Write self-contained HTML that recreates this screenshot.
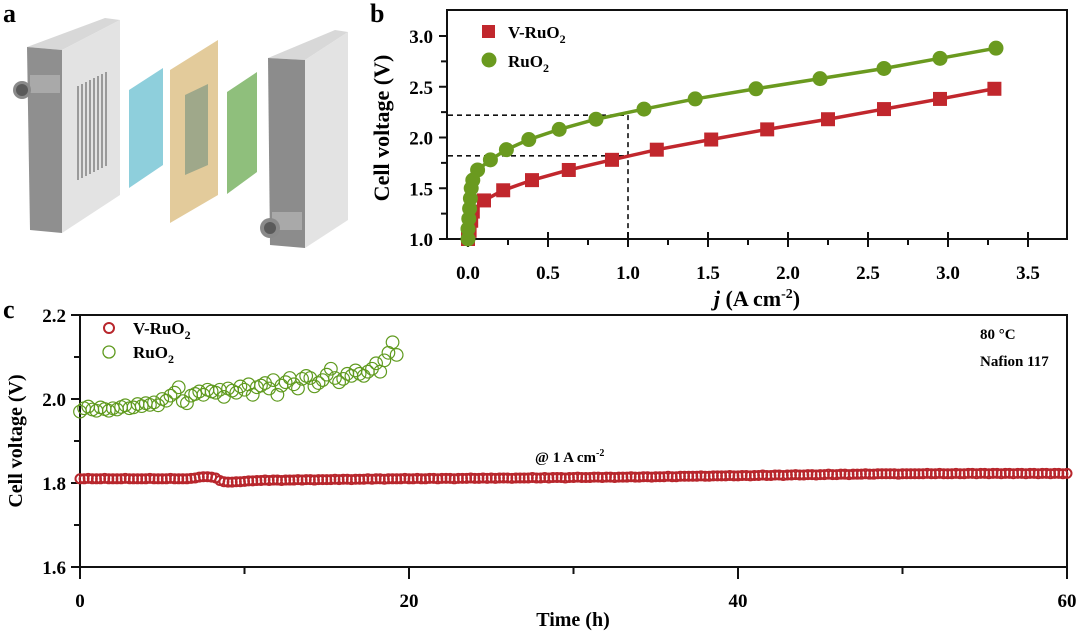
<!DOCTYPE html>
<html><head><meta charset="utf-8"><style>
html,body{margin:0;padding:0;background:#fff;}
svg{display:block;font-family:"Liberation Serif",serif;font-weight:bold;}
</style></head><body>
<svg id="fig" width="1080" height="635" viewBox="0 0 1080 635" xmlns="http://www.w3.org/2000/svg">
<g>
<text x="3" y="22" font-size="26">a</text>
<polygon points="27,47 105,18 120,20 62,50" fill="#d8d8d8"/>
<polygon points="27,47 62,50 62,233 30,230" fill="#8f8f8f"/>
<polygon points="62,50 120,20 120,195 62,233" fill="#e3e3e3"/>
<g stroke="#6a6a6a" stroke-width="1.2" fill="none">
<path d="M78,86 L78,180 M82,84 L82,178 M86,82 L86,176 M90,80 L90,174 M94,78 L94,172 M98,76 L98,170 M102,74 L102,168 M106,72 L106,166"/>
</g>
<rect x="30" y="75" width="30" height="18" fill="#a9a9a9"/>
<circle cx="22" cy="90" r="9" fill="#8a8a8a"/>
<circle cx="22" cy="90" r="6" fill="#5a5a5a"/>
<polygon points="129,90 163,68 163,165 129,188" fill="#8ecfdc"/>
<polygon points="170,70 218,40 218,195 170,223" fill="#e3cb9b"/>
<polygon points="185,95 208,84 208,165 185,175" fill="#9fa88a"/>
<polygon points="227,92 257,72 257,172 227,194" fill="#8fbf7c"/>
<polygon points="268,58 335,30 348,32 305,60" fill="#d8d8d8"/>
<polygon points="268,58 305,60 305,248 270,245" fill="#8c8c8c"/>
<polygon points="305,60 348,32 348,220 305,248" fill="#e3e3e3"/>
<rect x="272" y="212" width="30" height="18" fill="#a9a9a9"/>
<circle cx="270" cy="228" r="10" fill="#8a8a8a"/>
<circle cx="270" cy="228" r="6" fill="#5a5a5a"/>
</g>
<g id="pb"></g>
<g id="pc"></g>
</svg>
<script>
// ---- Panel b data ----
const bVRuJ = [0.0,0.01,0.02,0.03,0.1,0.22,0.4,0.63,0.9,1.18,1.52,1.87,2.25,2.6,2.95,3.29];
const bVRuV = [1.0,1.08,1.18,1.27,1.38,1.48,1.58,1.68,1.78,1.88,1.98,2.08,2.18,2.28,2.38,2.48];
const bRuJ = [0.0,0.0,0.005,0.01,0.015,0.02,0.03,0.06,0.14,0.24,0.38,0.57,0.8,1.1,1.42,1.8,2.2,2.6,2.95,3.3];
const bRuV = [1.0,1.1,1.2,1.3,1.4,1.5,1.58,1.68,1.78,1.88,1.98,2.08,2.18,2.28,2.38,2.48,2.58,2.68,2.78,2.88];
const bXTicks = ["0.0","0.5","1.0","1.5","2.0","2.5","3.0","3.5"];
const bYTicks = ["1.0","1.5","2.0","2.5","3.0"];
const bMarkV = [2.22,1.82];
// ---- Panel c data ----
const cVRuV = [
1.810,1.810,1.811,1.810,1.810,1.810,1.811,1.810,1.810,1.810,1.810,1.811,1.810,1.810,1.810,1.810,
1.810,1.811,1.810,1.810,1.810,1.810,1.811,1.810,1.810,1.810,1.810,1.811,
1.812,1.814,1.815,1.815,1.814,1.812,
1.806,1.803,1.802,1.802,1.803,1.803,1.804,1.805,1.805,1.806,
1.806,1.807,1.806,1.807,1.807,1.806,1.807,1.807,
1.807,1.808,1.807,1.808,1.808,1.807,1.808,1.808,
1.808,1.808,1.809,1.808,1.809,1.809,1.808,1.809,
1.809,1.809,1.810,1.809,1.810,1.810,1.809,1.810,
1.810,1.810,1.810,1.811,1.810,1.810,1.811,1.810,
1.810,1.811,1.811,1.810,1.811,1.811,1.811,1.810,
1.811,1.811,1.811,1.812,1.811,1.811,1.812,1.811,
1.812,1.811,1.812,1.812,1.812,1.811,1.812,1.812,
1.812,1.812,1.813,1.812,1.812,1.813,1.812,1.813,
1.813,1.813,1.812,1.813,1.813,1.814,1.813,1.813,
1.813,1.814,1.814,1.813,1.814,1.814,1.813,1.814,
1.814,1.814,1.815,1.814,1.814,1.815,1.815,1.814,
1.815,1.815,1.815,1.816,1.815,1.815,1.816,1.816,
1.816,1.816,1.816,1.817,1.816,1.816,1.817,1.817,
1.817,1.817,1.818,1.817,1.817,1.818,1.818,1.817,
1.818,1.818,1.819,1.818,1.818,1.819,1.819,1.818,
1.819,1.819,1.820,1.819,1.819,1.820,1.820,1.819,
1.820,1.820,1.821,1.820,1.820,1.821,1.821,1.820,
1.821,1.821,1.821,1.822,1.821,1.821,1.822,1.822,
1.822,1.822,1.822,1.821,1.822,1.822,1.822,1.822,
1.822,1.822,1.823,1.822,1.822,1.823,1.822,1.822,
1.822,1.823,1.822,1.822,1.823,1.823,1.822,1.823,
1.823,1.822,1.823,1.823,1.822,1.823,1.823,1.822,
1.823,1.823,1.822,1.823,1.823,1.822,1.823,1.823,
1.822,1.823,1.823,1.822,1.823];
const cVRuStep = 0.25;
const cRuV = [
1.970,1.978,1.982,1.975,1.972,1.980,1.976,1.972,1.978,1.975,1.981,1.985,1.978,1.980,1.988,1.983,
1.990,1.986,1.992,1.985,2.000,1.996,2.008,2.015,2.028,1.995,1.990,2.008,2.012,2.018,2.010,2.022,
2.018,2.015,2.022,2.005,2.025,2.020,2.015,2.030,2.022,2.035,2.010,2.028,2.032,2.038,2.025,2.045,
2.010,2.032,2.040,2.050,2.035,2.025,2.048,2.055,2.050,2.030,2.038,2.045,2.058,2.072,2.050,2.040,
2.048,2.060,2.055,2.068,2.060,2.055,2.065,2.072,2.085,2.065,2.092,2.110,2.135,2.105];
const cRuStep = 0.25;
const cXTicks = ["0","20","40","60"];
const cYTicks = ["1.6","1.8","2.0","2.2"];

const NS="http://www.w3.org/2000/svg";
function mk(parent,tag,attrs,text){const e=document.createElementNS(NS,tag);for(const k in attrs)e.setAttribute(k,attrs[k]);if(text!==undefined)e.textContent=text;parent.appendChild(e);return e;}

// ===== Panel b =====
const pb=document.getElementById('pb');
const bx=j=>468+j*160, by=v=>239-(v-1.0)*101.5;
let t=mk(pb,'text',{x:370,y:22,'font-size':26});


t.textContent='b';
let fr=mk(pb,'rect',{x:447,y:10,width:620,height:229,fill:'none',stroke:'#111','stroke-width':2});


for(let i=0;i<=14;i++){const j=i*0.25;const x=bx(j);const maj=i%2==0;
 mk(pb,'line',{x1:x,x2:x,y1:maj?232:239,y2:maj?247:245,stroke:'#111','stroke-width':2});}
bXTicks.forEach(s=>{const e=mk(pb,'text',{x:bx(parseFloat(s)),y:279,'font-size':19,'text-anchor':'middle'},s);
 
 });
for(let i=0;i<=8;i++){const v=1+i*0.25;const y=by(v);const maj=i%2==0;
 mk(pb,'line',{x1:maj?439:441,x2:447,y1:y,y2:y,stroke:'#111','stroke-width':2});}
bYTicks.forEach(s=>{const e=mk(pb,'text',{x:433,y:by(parseFloat(s))+7,'font-size':19,'text-anchor':'end'},s);
 
 });
t=mk(pb,'text',{x:0,y:0,'font-size':22,'text-anchor':'middle',transform:'translate(389,128) rotate(-90)'},'Cell voltage (V)');


t=mk(pb,'text',{x:757,y:306,'font-size':22,'text-anchor':'middle'});


t.innerHTML='<tspan font-style="italic">j</tspan> (A cm<tspan dy="-8" font-size="14">-2</tspan><tspan dy="8">)</tspan>';
bMarkV.forEach(v=>{const l=mk(pb,'line',{x1:448,x2:bx(1),y1:by(v),y2:by(v),stroke:'#111','stroke-width':1.6,'stroke-dasharray':'5,4'});
 
 });
let dl=mk(pb,'line',{x1:bx(1),x2:bx(1),y1:by(bMarkV[0]),y2:239,stroke:'#111','stroke-width':1.6,'stroke-dasharray':'5,4'});


function series(J,V,color,shape,name){
 const g=mk(pb,'g',{});
 
 
 mk(g,'polyline',{points:J.map((j,i)=>bx(j)+','+by(V[i])).join(' '),fill:'none',stroke:color,'stroke-width':3.5});
 J.forEach((j,i)=>{let m;
  if(shape=='sq') m=mk(g,'rect',{x:bx(j)-7,y:by(V[i])-7,width:14,height:14,fill:color});
  else m=mk(g,'circle',{cx:bx(j),cy:by(V[i]),r:7.5,fill:color});
  
  });
}
series(bVRuJ,bVRuV,'#c1272d','sq','series-v-ruo2');
series(bRuJ,bRuV,'#6a9a1f','ci','series-ruo2');
let lg=mk(pb,'g',{});


mk(lg,'rect',{x:482,y:25,width:13,height:13,fill:'#c1272d'});
mk(lg,'circle',{cx:489,cy:60,r:7.5,fill:'#6a9a1f'});
t=mk(lg,'text',{x:508,y:38,'font-size':17});
t.innerHTML='V-RuO<tspan dy="5" font-size="12">2</tspan>';
t=mk(lg,'text',{x:508,y:67,'font-size':17});
t.innerHTML='RuO<tspan dy="5" font-size="12">2</tspan>';

// ===== Panel c =====
const pc=document.getElementById('pc');
const cx=h=>80+h*(987/60), cy=v=>315+(2.2-v)*420;
t=mk(pc,'text',{x:3,y:318,'font-size':26});


t.textContent='c';
fr=mk(pc,'rect',{x:80,y:315,width:987,height:252,fill:'none',stroke:'#111','stroke-width':2});


for(let i=0;i<=6;i++){const x=cx(i*10);const maj=i%2==0;
 mk(pc,'line',{x1:x,x2:x,y1:567,y2:maj?579:574,stroke:'#111','stroke-width':2});}
cXTicks.forEach(s=>{const e=mk(pc,'text',{x:cx(parseFloat(s)),y:607,'font-size':19,'text-anchor':'middle'},s);
 
 });
for(let i=0;i<=6;i++){const v=1.6+i*0.1;const y=cy(v);const maj=i%2==0;
 mk(pc,'line',{x1:maj?71:74,x2:80,y1:y,y2:y,stroke:'#111','stroke-width':2});}
cYTicks.forEach(s=>{const e=mk(pc,'text',{x:66,y:cy(parseFloat(s))+7,'font-size':19,'text-anchor':'end'},s);
 
 });
t=mk(pc,'text',{x:0,y:0,'font-size':20,'text-anchor':'middle',transform:'translate(22,441) rotate(-90)'},'Cell voltage (V)');


t=mk(pc,'text',{x:573,y:626,'font-size':20,'text-anchor':'middle'},'Time (h)');


let g1=mk(pc,'g',{});


cRuV.forEach((v,i)=>{const m=mk(g1,'circle',{cx:cx(i*cRuStep),cy:cy(v),r:6.3,fill:'none',stroke:'#5f9a1e','stroke-width':1.2});
 
 });
let g2=mk(pc,'g',{});


cVRuV.forEach((v,i)=>{const m=mk(g2,'circle',{cx:cx(i*cVRuStep),cy:cy(v),r:4.5,fill:'none',stroke:'#b8262c','stroke-width':2});
 
 });
lg=mk(pc,'g',{});


mk(lg,'circle',{cx:109,cy:328,r:5,fill:'none',stroke:'#b8262c','stroke-width':2});
mk(lg,'circle',{cx:109,cy:352,r:6,fill:'none',stroke:'#5f9a1e','stroke-width':1.3});
t=mk(lg,'text',{x:133,y:334,'font-size':17});
t.innerHTML='V-RuO<tspan dy="5" font-size="12">2</tspan>';
t=mk(lg,'text',{x:133,y:358,'font-size':17});
t.innerHTML='RuO<tspan dy="5" font-size="12">2</tspan>';
t=mk(pc,'text',{x:980,y:339,'font-size':15},'80 °C');


t=mk(pc,'text',{x:980,y:366,'font-size':15},'Nafion 117');


t=mk(pc,'text',{x:535,y:462,'font-size':15});


t.innerHTML='@ 1 A cm<tspan dy="-6" font-size="10">-2</tspan>';
</script>
</body></html>
